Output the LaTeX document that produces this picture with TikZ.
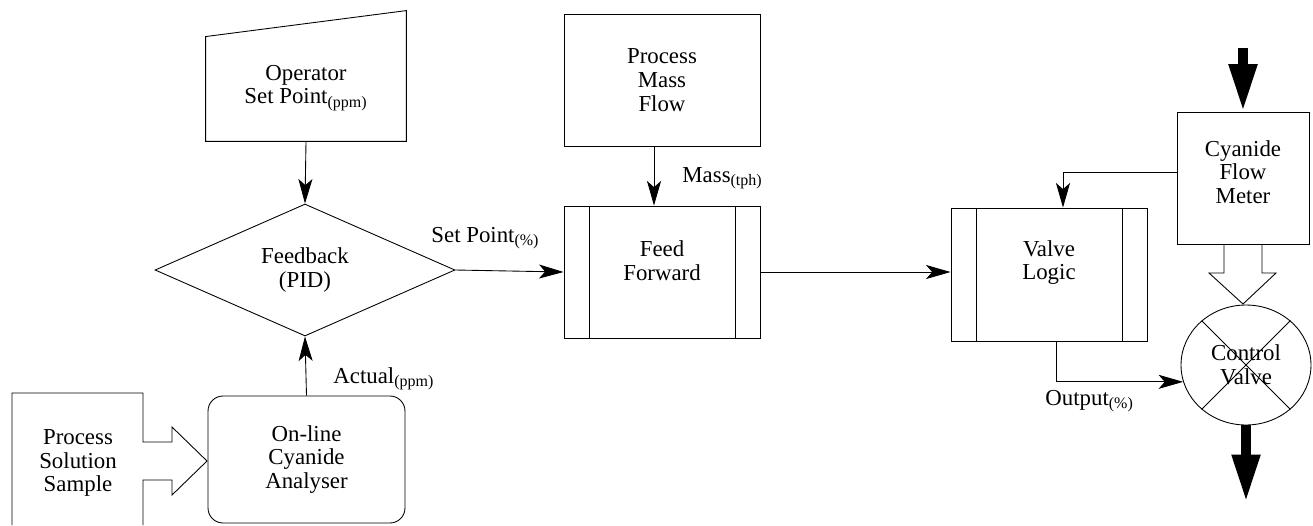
\documentclass[tikz,border=0pt]{standalone}
\usepackage{fontspec}
\setmainfont{Liberation Serif}
\usetikzlibrary{shapes.geometric,arrows.meta,positioning}

\tikzset{
  box/.style={draw, rectangle, align=center, inner sep=0pt},
  subproc/.style={box, path picture={
    \draw ([xshift=0.5cm]path picture bounding box.north west) -- ([xshift=0.5cm]path picture bounding box.south west);
    \draw ([xshift=-0.5cm]path picture bounding box.north east) -- ([xshift=-0.5cm]path picture bounding box.south east);}},
  line/.style={-{Stealth[length=14pt,width=8pt,inset=3.5pt]}},
  flow/.style={line width=5.5pt, -{Triangle[length=27pt,width=15pt]}},
  lbl/.style={anchor=base west, inner sep=0pt},
}

\begin{document}
\begin{tikzpicture}[x=0.02cm, y=-0.02cm, line width=0.5pt, font=\fontsize{13}{13.5}\selectfont]
\useasboundingbox (0,0) rectangle (1313,525);

% operator input
\node[box, draw=none, minimum width=4cm, minimum height=2.12cm] (op) at (306,88) {Operator\\Set Point\textsubscript{(ppm)}};
\draw (op.south west) -- ([yshift=-0.04cm]op.north west) -- ([yshift=0.48cm]op.north east) -- (op.south east) -- cycle;

\node[diamond, draw, aspect=2.27, minimum width=6cm, minimum height=2.64cm, inner sep=0pt, align=center] (fb) at (305,270) {Feedback\\(PID)};
\node[box, rounded corners=0.3cm, minimum width=3.94cm, minimum height=2.54cm] (an) at (306.5,459.5) {On-line\\Cyanide\\Analyser};

% sample stream
\node[align=center] (ps) at (78,463) {Process\\Solution\\Sample};
\draw (12,525) -- (12,393) -- (143,393) -- (143,442) -- (172,442) -- (172,427) -- (207,461) -- (172,495) -- (172,480) -- (143,480) -- (143,525);

\node[box, minimum width=3.92cm, minimum height=2.64cm] (pm) at (662,80) {Process\\Mass\\Flow};
\node[subproc, minimum width=3.92cm, minimum height=2.64cm, label={[align=center, yshift=0.22cm]center:Feed\\Forward}] (ff) at (662,272) {};
\node[subproc, minimum width=3.92cm, minimum height=2.66cm, label={[align=center, yshift=0.24cm]center:Valve\\Logic}] (vl) at (1049,274.5) {};
\node[box, minimum width=2.64cm, minimum height=2.64cm, label={[align=center, yshift=0.12cm]center:Cyanide\\Flow\\Meter}] (fm) at (1243,178) {};
\node[ellipse, draw, minimum width=2.6cm, minimum height=2.4cm, inner sep=0pt, align=center] (cv) at (1246,365) {Control\\Valve};
\draw (cv.135) -- (cv.-45) (cv.45) -- (cv.-135);

% meter to valve
\draw (1224,244) -- (1224,273) -- (1209,273) -- (1243,304) -- (1276,273) -- (1262,273) -- (1262,244);

% signals
\draw[line] (op.south) -- (fb.north);
\draw[line] (an.north) -- (fb.south);
\draw[line] (fb.east) -- (ff.west);
\draw[line] ([xshift=-0.16cm]pm.south) -- ([xshift=-0.16cm]ff.north);
\draw[line] (ff.east) -- (ff.east -| vl.west);
\draw[line] ([yshift=0.12cm]fm.west) -| ([xshift=0.28cm]vl.north);
\draw[line] ([xshift=0.14cm]vl.south) |- (cv.195);

\node[lbl] (sp) at (431,242) {Set Point\textsubscript{(\%)}};
\node[lbl] (ms) at (682,182) {Mass\textsubscript{(tph)}};
\node[lbl] (ac) at (333,383) {Actual\textsubscript{(ppm)}};
\node[lbl] (ou) at (1045,405) {Output\textsubscript{(\%)}};

% cyanide in and out
\coordinate (in) at (1243,48);
\coordinate (out) at (1246,502);
\draw[flow] (in) -- (in |- fm.north);
\draw[flow] (cv.south) -- (cv.south |- out);

\end{tikzpicture}
\end{document}
